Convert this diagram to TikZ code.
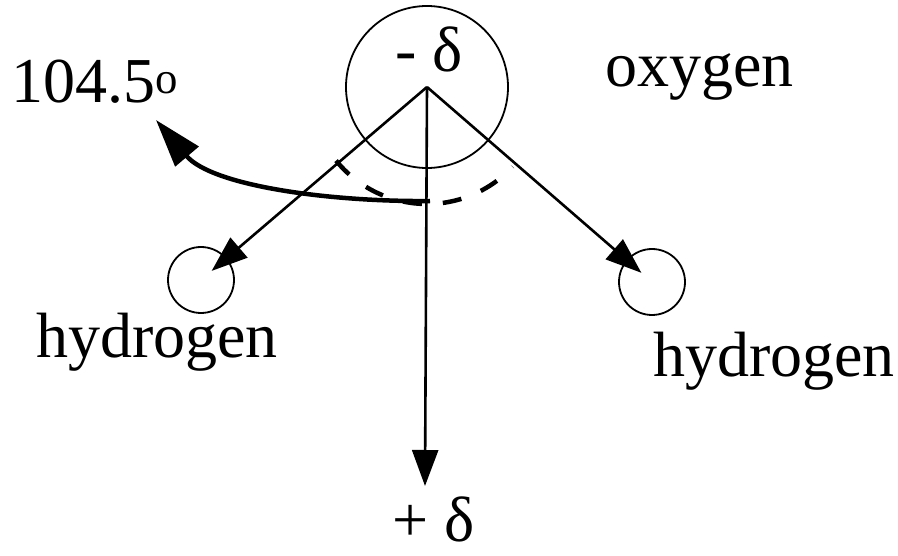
\documentclass[tikz,border=0pt]{standalone}
\usepackage{fontspec}
\setmainfont{Liberation Serif}
\usetikzlibrary{arrows.meta}

\begin{document}
\begin{tikzpicture}[x=1pt, y=-1pt, font=\fontsize{64}{72}\selectfont]
\tikzset{
  atom/.style={circle, draw=black, line width=1.8pt, inner sep=0pt},
  label/.style={anchor=base west, inner sep=0pt},
  bond/.style={-{Triangle[length=36pt, width=26pt]}, line width=2.6pt},
  angle/.style={line width=4.5pt, dash pattern=on 19pt off 21pt},
  turn/.style={-{Triangle[length=48pt, width=30pt]}, line width=4.5pt},
}
\useasboundingbox (0,0) rectangle (898,556);
% atoms
\node[atom, minimum size=162pt] (ox) at (427,87) {};
\node[atom, minimum size=66pt] (hl) at (201,280) {};
\node[atom, minimum size=66pt] (hr) at (652,282) {};
% texts
\node[label] (mn) at (395,72) {- δ};
\node[label] (ot) at (605,87) {oxygen};
\node[label] (ag) at (11,103) {104.5\textsuperscript{o}};
\node[label] (ht1) at (36,358) {hydrogen};
\node[label] (ht2) at (653,377) {hydrogen};
\node[label] (pl) at (392,541) {+ δ};
\coordinate (tip) at (425,486);
% bonds
\draw[bond, shorten >=14pt] (ox.center) -- (hl.center);
\draw[bond, shorten >=14pt] (ox.center) -- (hr.center);
\draw[bond] (ox.center) -- (tip);
% bond angle
\draw[angle] (ox.center) ++(141:117) arc[start angle=141, end angle=43, radius=117];
\coordinate (st) at (430,201);
\draw[turn] (st) .. controls (330,202) and (212,186) .. (156,120);
\end{tikzpicture}
\end{document}
